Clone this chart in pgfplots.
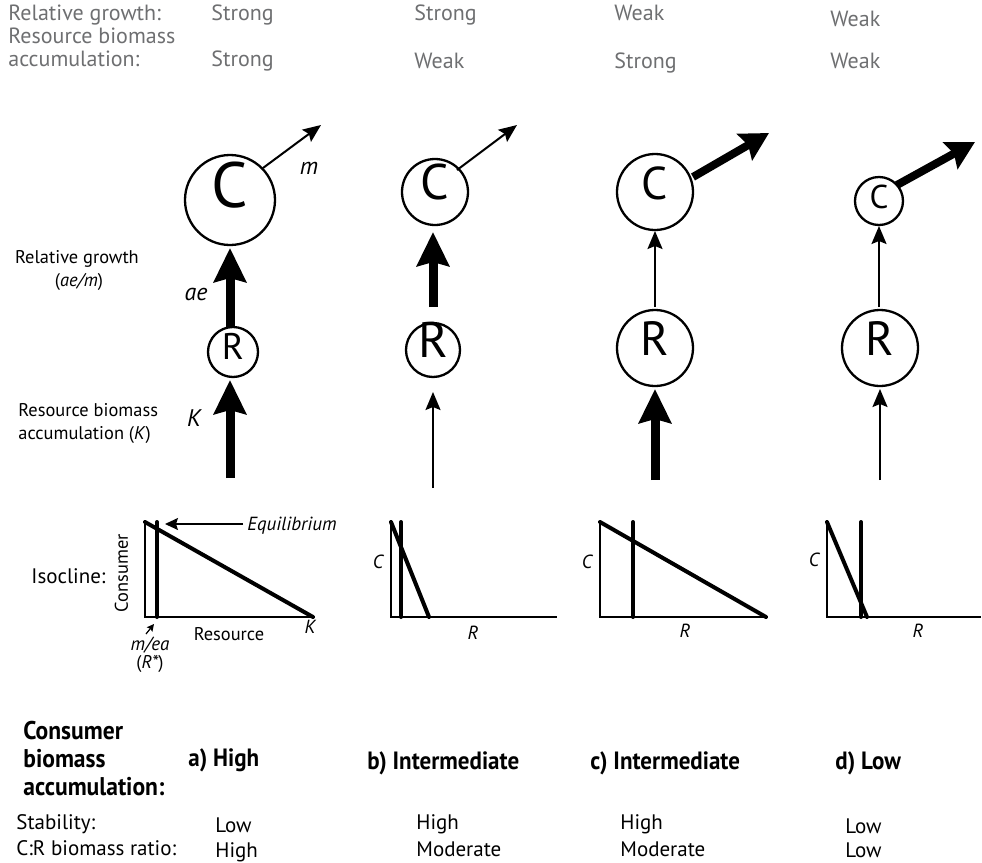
\documentclass[border=0pt]{standalone}
\usepackage{pgfplots}
\pgfplotsset{compat=1.18}
\usetikzlibrary{arrows.meta}
\usepackage{fontspec}
\setmainfont{PT Sans}
\newfontfamily\cbf[FakeStretch=0.92]{PT Sans}
\definecolor{tg}{RGB}{110,111,113}
\tikzset{
  every node/.append style={inner sep=0pt, text height=1.6ex, text depth=0.4ex},
  thinarr/.style={black, line width=1pt, -{Stealth[length=9pt,width=7.5pt,inset=1.5pt]}},
  thickarr/.style={black, line width=4.5pt, -{Stealth[length=17pt,width=16pt,inset=2pt]}},
  marr/.style={black, line width=4pt, -{Stealth[length=14pt,width=15pt,inset=2pt]}},
  iso/.style={black, line width=2pt, line cap=round},
  ax/.style={black, line width=0.7pt},
  circ/.style={black, only marks, mark=o, line width=1.15pt},
  top/.style={anchor=west, text=tg, font=\fontsize{11}{12}\selectfont},
  bot/.style={anchor=west, font=\fontsize{10.5}{12}\selectfont},
  bb/.style={anchor=west, font=\cbf\bfseries\fontsize{12.8}{14}\selectfont},
  bh/.style={anchor=west, font=\cbf\bfseries\fontsize{12.5}{13}\selectfont},
  sm/.style={font=\fontsize{9.2}{10}\selectfont},
  it/.style={font=\itshape\fontsize{9.5}{10}\selectfont},
}
\begin{document}
\begin{tikzpicture}
\begin{axis}[hide axis, scale only axis, width=491pt, height=431.5pt,
  xmin=0, xmax=982, ymin=0, ymax=863, y dir=reverse, clip=false]
\coordinate (A) at (axis cs:0,0);
\coordinate (B) at (axis cs:982,863);
% ---------- top text
\node[top] at (axis cs:8,14) {Relative growth:};
\node[top] at (axis cs:8,37) {Resource biomass};
\node[top] at (axis cs:8,60) {accumulation:};
\node[top] at (axis cs:211,14) {Strong};
\node[top] at (axis cs:414,14) {Strong};
\node[top] at (axis cs:614,14) {Weak};
\node[top] at (axis cs:830,20) {Weak};
\node[top] at (axis cs:211,60) {Strong};
\node[top] at (axis cs:414,62) {Weak};
\node[top] at (axis cs:614,62) {Strong};
\node[top] at (axis cs:830,62) {Weak};
% ---------- circles
\addplot[circ, mark size=22.5pt] coordinates {(230,200)};
\addplot[circ, mark size=12.5pt] coordinates {(233,352)};
\addplot[circ, mark size=16.5pt] coordinates {(435,192)};
\addplot[circ, mark size=13.5pt] coordinates {(433,350)};
\addplot[circ, mark size=19pt] coordinates {(655,192)};
\addplot[circ, mark size=19pt] coordinates {(655,348)};
\addplot[circ, mark size=12pt] coordinates {(879,201)};
\addplot[circ, mark size=19pt] coordinates {(880,348)};
\node[font=\fontsize{32}{34}\selectfont] at (axis cs:230,201) {C};
\node[font=\fontsize{18.5}{20}\selectfont] at (axis cs:233,353) {R};
\node[font=\fontsize{25}{27}\selectfont] at (axis cs:435,193) {C};
\node[font=\fontsize{25}{27}\selectfont] at (axis cs:433,351) {R};
\node[font=\fontsize{23}{25}\selectfont] at (axis cs:655,193) {C};
\node[font=\fontsize{24}{26}\selectfont] at (axis cs:655,349) {R};
\node[font=\fontsize{16.5}{18}\selectfont] at (axis cs:879,202) {C};
\node[font=\fontsize{24}{26}\selectfont] at (axis cs:880,349) {R};
% ---------- arrows
\addplot[thinarr] coordinates {(263,168) (321,125)};
\addplot[thickarr] coordinates {(230,327) (230,248)};
\addplot[thickarr] coordinates {(230,478) (230,380)};
\addplot[thinarr] coordinates {(457,170) (517,125)};
\addplot[thickarr] coordinates {(433,307) (433,232)};
\addplot[thinarr] coordinates {(433,488) (433,392)};
\addplot[marr] coordinates {(693,177) (769,133)};
\addplot[thinarr] coordinates {(655,307) (655,231)};
\addplot[thickarr] coordinates {(655,480) (655,389)};
\addplot[marr] coordinates {(897,185) (975,142)};
\addplot[thinarr] coordinates {(879,307) (879,226)};
\addplot[thinarr] coordinates {(880,480) (880,389)};
\node[font=\itshape\fontsize{12}{13}\selectfont] at (axis cs:309,168) {m};
\node[font=\itshape\fontsize{12}{13}\selectfont] at (axis cs:196,294) {ae};
\node[font=\itshape\fontsize{12}{13}\selectfont] at (axis cs:194,420) {K};
% ---------- left labels
\node[sm] at (axis cs:77,257) {Relative growth};
\node[sm] at (axis cs:79,280) {(\textit{ae/m})};
\node[sm, anchor=west] at (axis cs:18,410) {Resource biomass};
\node[sm, anchor=west] at (axis cs:18,433) {accumulation (\textit{K})};
\node[bot] at (axis cs:31,577) {Isocline:};
% ---------- isoclines
\addplot[ax] coordinates {(145,522) (145,617) (313,617)};
\addplot[iso] coordinates {(145,522) (313,617)};
\addplot[iso] coordinates {(157,522) (157,617)};
\addplot[ax] coordinates {(391,522) (391,617) (557,617)};
\addplot[iso] coordinates {(391,522) (429,617)};
\addplot[iso] coordinates {(401,522) (401,617)};
\addplot[ax] coordinates {(600,522) (600,617) (766,617)};
\addplot[iso] coordinates {(600,522) (766,617)};
\addplot[iso] coordinates {(633,522) (633,617)};
\addplot[ax] coordinates {(827,522) (827,617) (981,617)};
\addplot[iso] coordinates {(827,522) (867,617)};
\addplot[iso] coordinates {(861,522) (861,617)};
\addplot[black, line width=0.8pt, -{Stealth[length=6.5pt,width=6pt,inset=1pt]}] coordinates {(243,524) (165,524)};
\addplot[black, line width=0.6pt, -{Stealth[length=3.5pt,width=3.5pt,inset=0.5pt]}] coordinates {(146,634) (154,624)};
\node[it, anchor=west] at (axis cs:247,524) {Equilibrium};
\node[sm, rotate=90] at (axis cs:122,573) {Consumer};
\node[sm] at (axis cs:229,634) {Resource};
\node[it] at (axis cs:310,627) {K};
\node[it] at (axis cs:150,644) {m/ea};
\node[sm] at (axis cs:150,662) {(\textit{R*})};
\node[it] at (axis cs:378,562) {C};
\node[it] at (axis cs:473,633) {R};
\node[it] at (axis cs:587,562) {C};
\node[it] at (axis cs:685,631) {R};
\node[it] at (axis cs:814,560) {C};
\node[it] at (axis cs:918,631) {R};
% ---------- bottom text
\node[bb] at (axis cs:23,733) {Consumer};
\node[bb] at (axis cs:23,761) {biomass};
\node[bb] at (axis cs:23,789) {accumulation:};
\node[bh] at (axis cs:188,760) {a) High};
\node[bh] at (axis cs:367,763) {b) Intermediate};
\node[bh] at (axis cs:590,763) {c) Intermediate};
\node[bh] at (axis cs:835,763) {d) Low};
\node[bot] at (axis cs:16,823) {Stability:};
\node[bot] at (axis cs:16,849) {C:R biomass ratio:};
\node[bot] at (axis cs:215,826) {Low};
\node[bot] at (axis cs:416,823) {High};
\node[bot] at (axis cs:620,823) {High};
\node[bot] at (axis cs:845,827) {Low};
\node[bot] at (axis cs:215,851) {High};
\node[bot] at (axis cs:416,850) {Moderate};
\node[bot] at (axis cs:620,850) {Moderate};
\node[bot] at (axis cs:845,851) {Low};
\end{axis}
\pgfresetboundingbox
\path (A) rectangle (B);
\end{tikzpicture}
\end{document}
